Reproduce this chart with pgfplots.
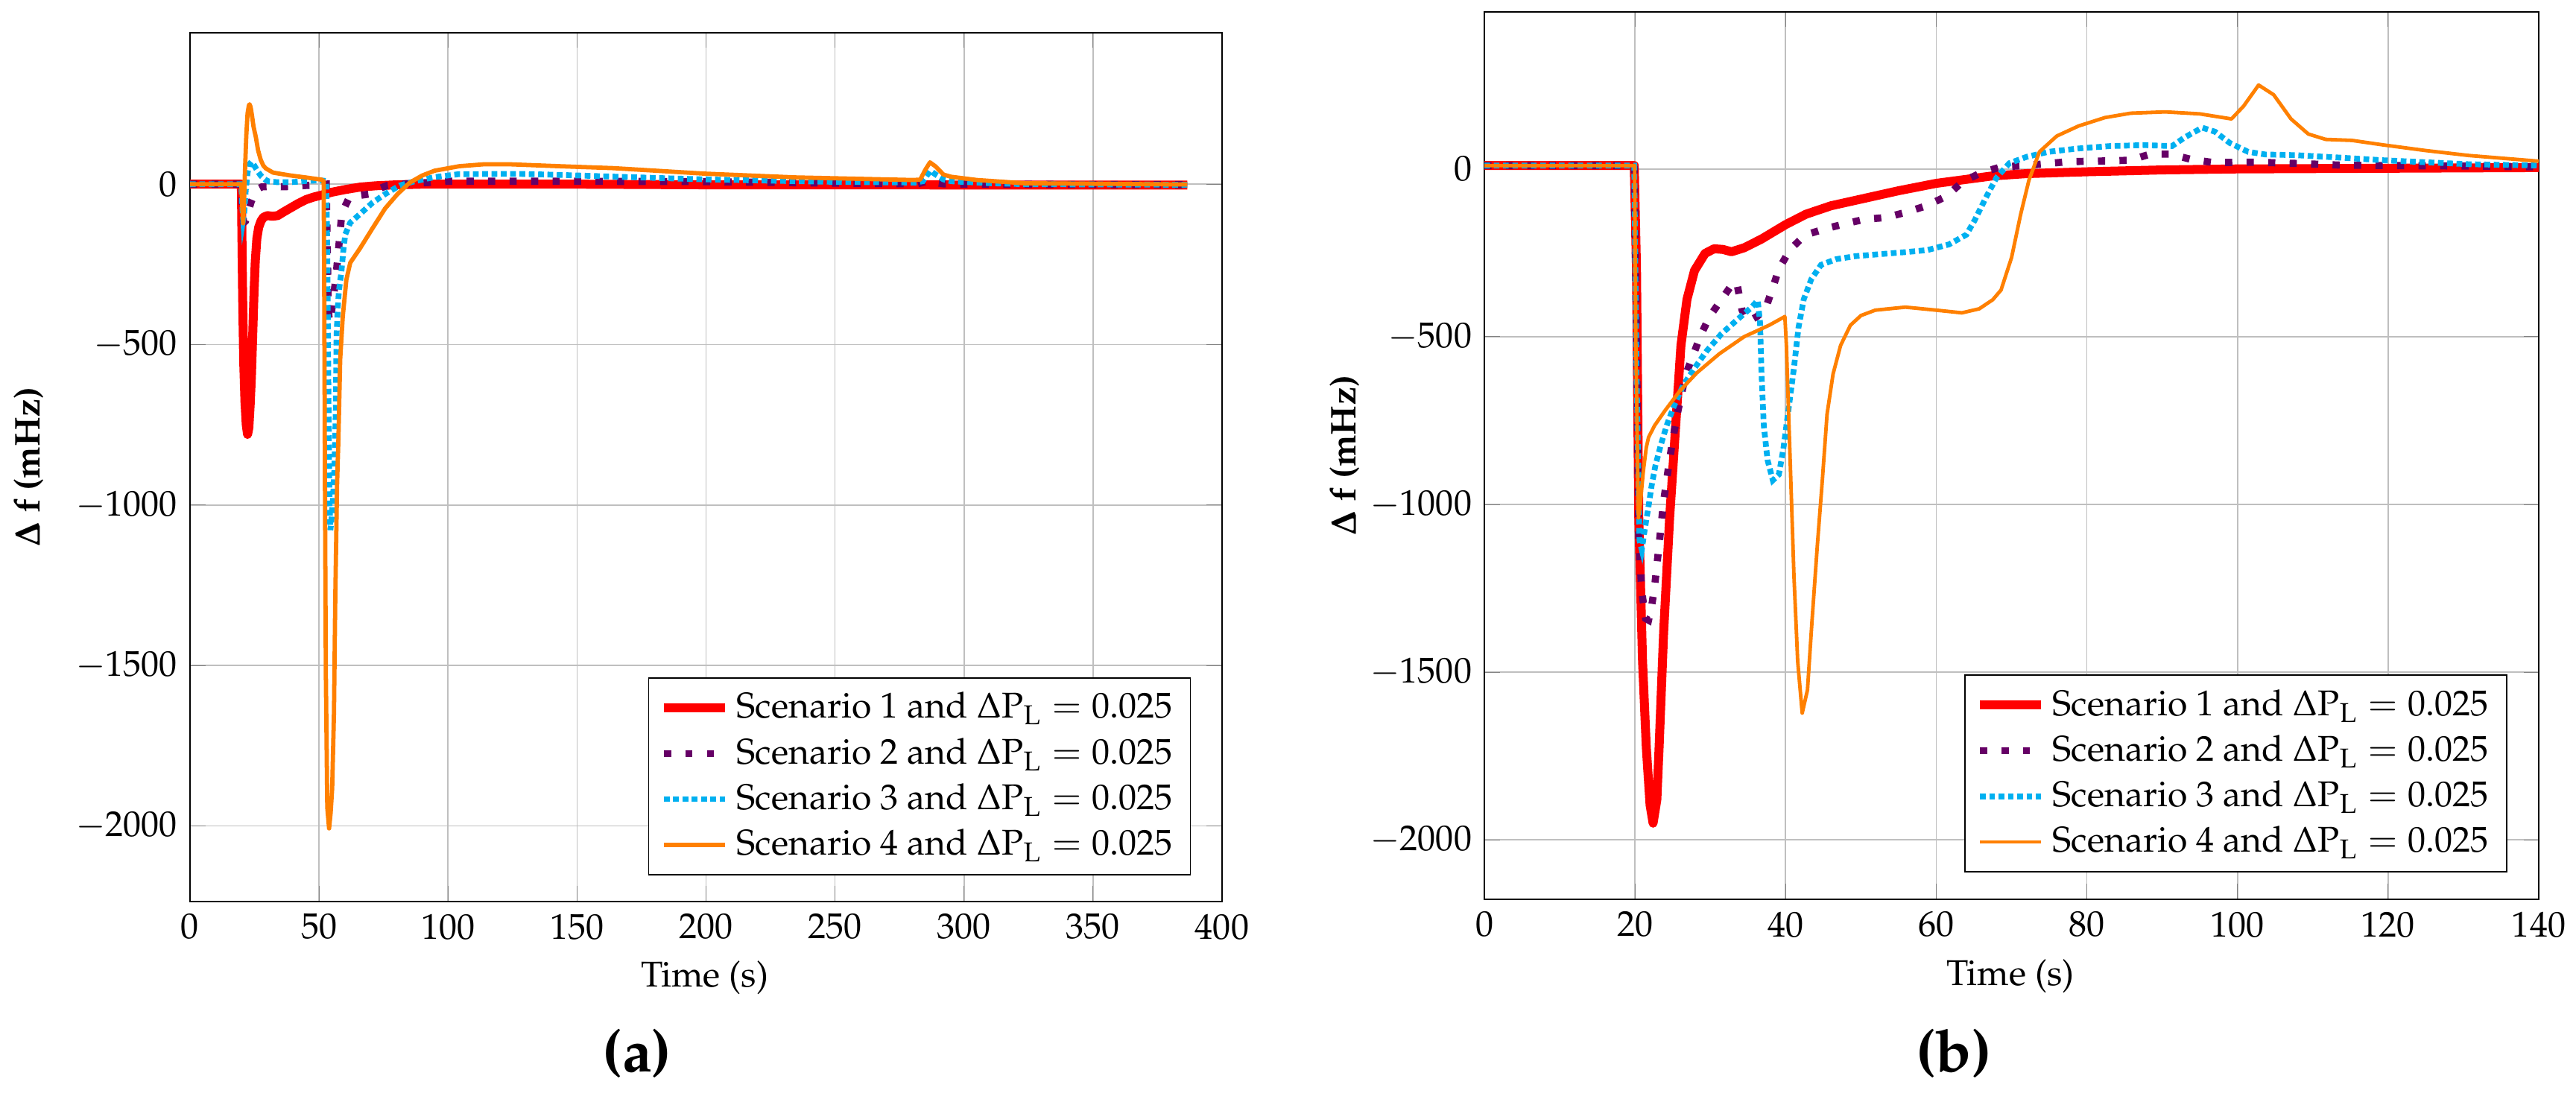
\documentclass[border=0pt]{standalone}
\usepackage[T1]{fontenc}
\usepackage{mathpazo}
\usepackage{pgfplots}
\pgfplotsset{compat=1.18}
\definecolor{sOne}{RGB}{255,0,0}
\definecolor{sTwo}{RGB}{102,0,102}
\definecolor{sThree}{RGB}{0,176,240}
\definecolor{sFour}{RGB}{255,128,0}
\pgfplotsset{
  myax/.style={scale only axis, anchor=south west, grid=major,
    major grid style={gray!50, line width=0.35pt},
    ytick={-2000,-1500,-1000,-500,0},
    /pgf/number format/1000 sep={},
    legend pos=south east, legend cell align=left,
    legend style={font=\fontsize{10}{12}\selectfont, draw=black, line width=0.4pt},
    xlabel={Time (s)}, ylabel={$\Delta$ f (mHz)}},
  s1/.style={color=sOne, line width=2.5pt, line join=round, no marks},
  s2/.style={color=sTwo, line width=2pt, dash pattern=on 2pt off 4pt, no marks},
  s3/.style={color=sThree, line width=1.6pt, dash pattern=on 1.6pt off 1pt, no marks},
}
\begin{document}
\begin{tikzpicture}
\useasboundingbox (0pt,0pt) rectangle (719.06pt,306.8pt);
\begin{axis}[myax, at={(53.04pt,55.12pt)}, width=288.08pt, height=242.53pt,
  xmin=0, xmax=400, ymin=-2236, ymax=472, xtick={0,50,...,400},
  xlabel style={at={(axis description cs:0.4989,-0.0875)}, anchor=center},
  ylabel style={at={(axis description cs:-0.1562,0.5)}, anchor=center, font=\bfseries\boldmath}]
\addplot[s1] coordinates {(0,0)(19.9,0)(20.1,-150)(20.4,-350)(20.8,-550)(21.3,-680)(21.8,-750)(22.3,-780)(22.8,-760)(23.3,-690)(23.8,-600)(24.3,-470)(24.8,-340)(25.3,-240)(25.9,-170)(26.6,-135)(27.5,-115)(28.5,-103)(30,-98)(32,-100)(34,-98)(36,-88)(39,-74)(42,-60)(45,-48)(48,-40)(51,-34)(55,-25)(60,-17)(66,-9)(72,-5)(80,-2)(90,0)(150,0)(200,-2)(386.5,-3)};
\addlegendentry{Scenario 1 and $\Delta\mathrm{P}_{\mathrm{L}} = 0.025$}
\addplot[s2] coordinates {(0,0)(19.9,0)(20.3,-80)(20.8,-120)(21.5,-115)(22.5,-85)(23.8,-53)(25,-30)(26.5,-14)(28,-8)(32,-7)(36,-8)(40,-7)(45,-4)(50,-2)(52.8,0)(53.2,-200)(53.6,-380)(54,-430)(54.5,-420)(55.3,-370)(56.3,-307)(57.3,-227)(58.7,-102)(60,-70)(61.6,-44)(65,-36)(69.3,-31)(73,-15)(76.5,-4)(82,0)(90,4)(100,9)(150,9)(199,8)(250,3)(282,1)(286,10)(288,6)(292,1)(300,0)(386.5,-2)};
\addlegendentry{Scenario 2 and $\Delta\mathrm{P}_{\mathrm{L}} = 0.025$}
\addplot[s3] coordinates {(0,0)(19.9,0)(20.2,-60)(20.6,-110)(21,-90)(21.6,-20)(22.3,35)(23,62)(23.8,70)(24.6,62)(25.5,50)(26.5,37)(27.4,27)(29,15)(30.3,9)(34,6)(39,6)(45,10)(50.5,12)(52.8,10)(53.2,-200)(53.5,-500)(53.8,-800)(54.1,-1000)(54.4,-1078)(54.8,-1050)(55.4,-980)(56,-880)(56.5,-700)(56.8,-470)(57.3,-380)(57.7,-333)(58.7,-271)(59.5,-200)(60.2,-156)(62.1,-120)(65.9,-93)(70.7,-58)(75.6,-31)(81.3,-4)(87,9)(94.8,22)(104,31)(119,32)(128.5,32)(143,29)(170,22)(199,15)(230,10)(252,7)(281,5)(284,9)(286.9,42)(289,30)(292,15)(295,9)(310,3)(323,0)(386.5,-2)};
\addlegendentry{Scenario 3 and $\Delta\mathrm{P}_{\mathrm{L}} = 0.025$}
\addplot[color=sFour, line width=1.2pt, line join=round, no marks] coordinates {(0,0)(19.9,0)(20.3,-80)(20.6,-122)(20.9,-60)(21.3,40)(21.8,150)(22.3,220)(22.8,245)(23.1,249)(23.5,240)(24,215)(24.6,180)(25.5,147)(26.4,105)(27.4,76)(28.4,58)(29.4,49)(32.2,36)(39,27)(44.8,21)(51,14)(51.8,10)(52.0,-300)(52.3,-935)(52.65,-1528)(53.2,-1943)(53.9,-2008)(54.5,-1960)(55.1,-1883)(55.8,-1646)(56.3,-1291)(57.0,-935)(57.5,-800)(58.2,-547)(59.2,-413)(60.6,-298)(62.1,-245)(65.9,-200)(70.7,-138)(75.6,-76)(80.4,-31)(85.2,5)(90,27)(94.8,42)(104.4,56)(114,62)(123.7,62)(143,56)(164,50)(199,33)(235,21)(280,13)(283,14)(285,45)(286.8,68)(289,55)(292,30)(295,23)(305,13)(323,3)(386.5,-1)};
\addlegendentry{Scenario 4 and $\Delta\mathrm{P}_{\mathrm{L}} = 0.025$}
\end{axis}
\begin{axis}[myax, at={(414.34pt,55.74pt)}, width=294.32pt, height=247.73pt,
  xmin=0, xmax=140, ymin=-2177, ymax=468, xtick={0,20,...,140},
  xlabel style={at={(axis description cs:0.499,-0.0865)}, anchor=center},
  ylabel style={at={(axis description cs:-0.1322,0.5)}, anchor=center, font=\bfseries\boldmath}]
\addplot[s1] coordinates {(0,10)(19.9,10)(20.2,-300)(20.5,-1039)(21,-1467)(21.5,-1724)(22,-1896)(22.4,-1950)(22.9,-1880)(23.2,-1724)(23.8,-1382)(24.6,-1039)(25.6,-697)(26.1,-526)(26.9,-389)(27.9,-303)(29.3,-252)(30.5,-238)(31.7,-240)(32.8,-247)(34.5,-235)(36.8,-209)(40,-166)(42.7,-135)(46,-110)(50.2,-89)(55,-65)(60,-43)(67.4,-21)(72,-14)(80,-8.5)(90,-3)(100,0)(120,2)(140,4)};
\addlegendentry{Scenario 1 and $\Delta\mathrm{P}_{\mathrm{L}} = 0.025$}
\addplot[s2] coordinates {(0,10)(19.9,10)(20.2,-500)(20.5,-1100)(20.9,-1260)(21.4,-1340)(21.8,-1345)(22.2,-1305)(22.6,-1245)(23.2,-1120)(23.8,-991)(24.6,-865)(25.5,-743)(26.7,-615)(27.7,-556)(28.7,-497)(29.9,-440)(31.5,-389)(32.7,-350)(33.5,-337)(34.2,-420)(35.0,-455)(36.2,-440)(37.3,-418)(38.3,-354)(39.1,-298)(40.6,-240)(42.6,-197)(45.3,-178)(48,-163)(50.5,-150)(53.3,-145)(56.2,-128)(58.8,-109)(61.4,-81)(63.5,-38)(66,-11)(68.6,6)(71.7,10)(74.3,15)(77.2,21)(80.1,23)(83,24)(85.8,26)(87.5,38)(88.4,44)(91.1,44)(92.5,36)(93.9,28)(96.8,19)(102.5,20)(108.3,16)(114,11)(120,10)(130.7,8.5)(140,6)};
\addlegendentry{Scenario 2 and $\Delta\mathrm{P}_{\mathrm{L}} = 0.025$}
\addplot[s3] coordinates {(0,10)(19.9,10)(20.2,-600)(20.6,-1108)(20.9,-1135)(21.3,-1074)(21.8,-1005)(22.2,-945)(22.7,-885)(23.4,-825)(24.2,-765)(25.2,-705)(26.4,-645)(27.9,-594)(29.5,-543)(31.5,-491)(33.8,-445)(35.4,-414)(36.3,-392)(36.6,-457)(36.8,-611)(37.1,-765)(37.6,-868)(38.3,-928)(39.1,-911)(39.7,-834)(40.4,-714)(41.1,-594)(41.7,-474)(42.4,-389)(43.4,-329)(44.7,-286)(46.7,-269)(49.3,-260)(52,-255)(55.9,-248)(58.8,-242)(61.7,-225)(64,-196)(65.1,-153)(66.6,-85)(68,-26)(69.7,17)(72,36)(74.9,51)(78.9,61)(83,68)(87.6,71)(91.3,68)(93,94)(95.3,123)(97,111)(99,77)(101.4,51)(103.7,43)(107.7,41)(113.4,34)(119.2,26)(124.9,20)(130.7,14)(140,10)};
\addlegendentry{Scenario 3 and $\Delta\mathrm{P}_{\mathrm{L}} = 0.025$}
\addplot[color=sFour, line width=1pt, line join=round, no marks] coordinates {(0,10)(19.95,10)(20.1,-500)(20.45,-1040)(20.7,-1000)(21.1,-902)(21.5,-830)(21.8,-800)(22.6,-765)(23.9,-723)(25.9,-663)(28.2,-608)(31.2,-551)(34.5,-500)(37.8,-466)(39.9,-440)(40.1,-526)(40.6,-868)(41.1,-1211)(41.6,-1467)(42.2,-1622)(42.9,-1553)(43.5,-1348)(44.2,-1125)(44.9,-920)(45.5,-731)(46.3,-611)(47.3,-526)(48.6,-466)(50,-437)(51.9,-421)(55.9,-412)(60,-421)(63.4,-429)(65.7,-417)(67.5,-390)(68.6,-361)(70,-264)(71.2,-136)(72.3,-34)(73.7,51)(76,98)(78.9,128)(82.4,153)(85.8,166)(90.4,170)(95,164)(99.2,149)(100.8,187)(102.8,250)(104.8,221)(107.1,149)(109.4,104)(111.7,88)(115.2,85)(119.2,72)(124.9,55)(130.7,40)(140,23)};
\addlegendentry{Scenario 4 and $\Delta\mathrm{P}_{\mathrm{L}} = 0.025$}
\end{axis}
\node[font=\fontsize{16.5}{20}\selectfont\bfseries] at (177.84pt,12.69pt) {(a)};
\node[font=\fontsize{16.5}{20}\selectfont\bfseries] at (545.38pt,12.69pt) {(b)};
\end{tikzpicture}
\end{document}
